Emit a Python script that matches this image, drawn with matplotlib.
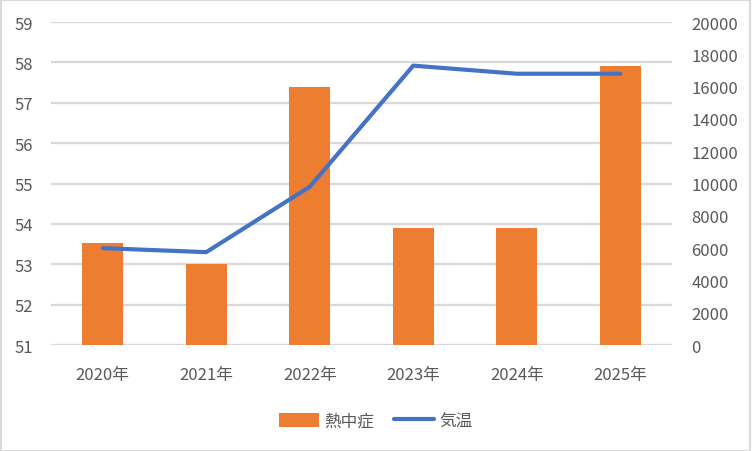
import matplotlib.pyplot as plt
from matplotlib.patches import Rectangle

plt.rcParams['font.family'] = ['Noto Sans CJK JP', 'DejaVu Sans']

years = ['2020年', '2021年', '2022年', '2023年', '2024年', '2025年']
heatstroke = [53.53, 53.0, 57.4, 53.9, 53.9, 57.9]
temperature = [6000, 5750, 9800, 17300, 16800, 16800]

bar_color = '#ED7D31'
line_color = '#4472C4'
grid_color = '#D9D9D9'
text_color = '#595959'


def main():
    fig = plt.figure(figsize=(7.52, 4.52), dpi=100)
    ax = fig.add_axes([0.0678, 0.2345, 0.8258, 0.7145])
    ax2 = ax.twinx()

    x = list(range(len(years)))
    bars = ax.bar(x, [v - 51 for v in heatstroke], bottom=51, width=0.4,
                  color=bar_color, label='熱中症', zorder=2)
    line, = ax2.plot(x, temperature, color=line_color, linewidth=3,
                     solid_capstyle='round', label='気温', zorder=3)

    ax.set_xlim(-0.5, len(years) - 0.5)
    ax.set_ylim(51, 59)
    ax.set_yticks(range(51, 60))
    ax2.set_ylim(0, 20000)
    ax2.set_yticks(range(0, 20001, 2000))
    ax.set_xticks(x)
    ax.set_xticklabels(years)

    ax.grid(axis='y', color=grid_color, linewidth=1.6, zorder=0)
    ax.set_axisbelow(True)
    for a in (ax, ax2):
        for s in a.spines.values():
            s.set_visible(False)
        a.tick_params(length=0, labelsize=12, colors=text_color)
    ax.tick_params(axis='y', pad=13)
    ax.tick_params(axis='x', pad=15)
    ax2.tick_params(axis='y', pad=14)

    fig.legend([bars, line], ['熱中症', '気温'], loc='center',
               bbox_to_anchor=(0.5, 0.066), ncol=2, frameon=False,
               fontsize=12, labelcolor=text_color, handlelength=2.4,
               handleheight=0.9, handletextpad=0.3, columnspacing=1.2)

    fig.patches.append(Rectangle((0.001, 0.001), 0.997, 0.997, transform=fig.transFigure,
                                 fill=False, edgecolor=grid_color, linewidth=1.5))

    fig.savefig('out.png', dpi=100)


if __name__ == '__main__':
    main()
